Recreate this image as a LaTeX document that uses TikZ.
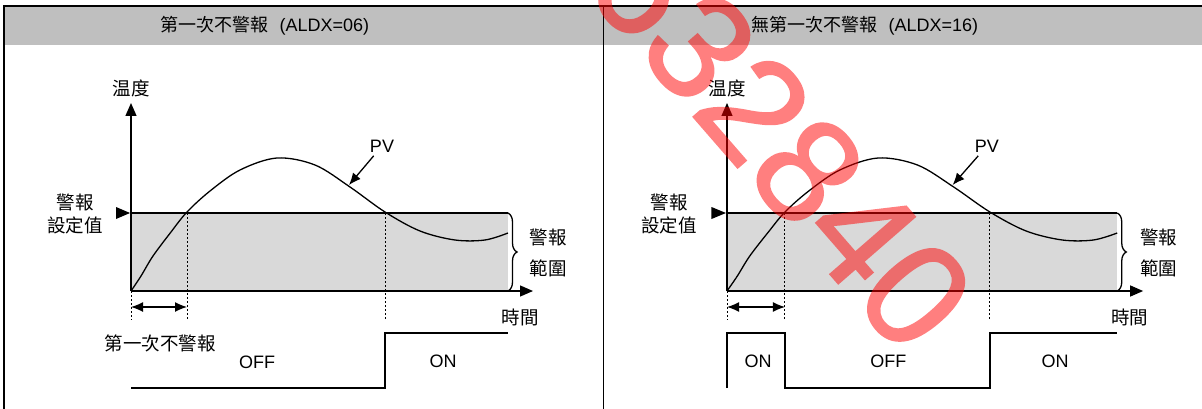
\documentclass[tikz,border=0pt]{standalone}
\usepackage{fontspec}
\setmainfont{Liberation Sans}
\newfontfamily\cjk{Noto Sans CJK TC}
\newfontfamily\stampfont[FakeBold=1.2]{Liberation Sans}
\usetikzlibrary{arrows.meta, decorations.pathreplacing}
\definecolor{headgray}{HTML}{BFBFBF}
\definecolor{bandgray}{HTML}{D9D9D9}
\def\svY{213}
\def\orgY{291}
\def\tA{56}
\def\tB{254}
\def\bandW{377}
\def\lowY{388}
\def\highY{333}
\newcommand{\alarmchart}{%
% alarm band, brace on the right side
\fill[bandgray] (0,\svY) rectangle (\bandW,\orgY);
\coordinate (org) at (0,\orgY);
\coordinate (ytop) at (0,103);
\coordinate (xend) at (402,\orgY);
\coordinate (svL) at (0,\svY);
\coordinate (svR) at (\bandW,\svY);
\coordinate (bandBR) at (\bandW,\orgY);
\draw (svL) -- (svR);
\draw[decorate, decoration={brace, amplitude=9pt}] (svR) -- (bandBR);

% axes
\draw[axis] (org) -- (ytop);
\draw[axis] (org) -- (xend);
\fill (-1,\svY) -- (-15,207) -- (-15,219) -- cycle;

% PV curve
\draw plot[smooth, tension=0.55] coordinates {(0,291) (10,276) (22,256)
  (40,232) (56,212) (79,191) (109,170) (146,158) (184,165) (219,187)
  (254,212) (289,231) (324,240) (354,240) (377,233)};

% crossing points
\coordinate (cA) at (\tA,\svY);
\coordinate (cB) at (\tB,\svY);
\coordinate (orgB) at (0,320);
\coordinate (cAB) at (\tA,320);
\coordinate (cBB) at (\tB,320);
\draw[guide] (org) -- (orgB);
\draw[guide] (cA) -- (cAB);
\draw[guide] (cB) -- (cBB);
\coordinate (dA) at (0,307);
\coordinate (dB) at (\tA,307);
\draw[<->] (dA) -- (dB);

% labels
\node[cjktxt] (temp) at (0,88) {温度};
\node[cjktxt, align=center] (svlbl) at (-56,214) {警報\\設定值};
\node[cjktxt, align=center] (range) at (417,253) {警報\\[8pt]範圍};
\node[cjktxt] (time) at (389,317) {時間};
\node[txt, inner sep=3pt] (pv) at (251,146) {PV};
\coordinate (pvtip) at (218,185);
\draw[->] (pv) -- (pvtip);
}

\begin{document}
\begin{tikzpicture}[
    x=1pt, y=-1pt,
    line width=1.3pt,
    >={Latex[length=12pt,width=10pt]},
    axis/.style={-{Triangle[length=13pt,width=11pt]}},
    guide/.style={line width=1pt, dash pattern=on 2pt off 2pt},
    txt/.style={inner sep=0pt, font=\fontsize{18}{22}\selectfont},
    cjktxt/.style={inner sep=0pt, font=\cjk\fontsize{18.5}{23}\selectfont},
    stamp/.style={text=red, inner sep=0pt,
        font=\stampfont\fontsize{148}{148}\selectfont}
]
\useasboundingbox (0,0) rectangle (1202,409);

% header and frame
\fill[headgray] (4,6) rectangle (1202,45);
\draw[line width=1.5pt] (4,409) -- (4,6) -- (1202,6);
\draw[line width=1.5pt] (603.5,6) -- (603.5,409);
\node[txt] (hdrL) at (265,26) {{\cjk 第一次不警報}\hspace{.6em}(ALDX=06)};
\node[txt] (hdrR) at (865,26) {{\cjk 無第一次不警報}\hspace{.6em}(ALDX=16)};

% first alarm suppressed
\begin{scope}[xshift=131pt, name prefix=L-]
\alarmchart
\draw (0,\lowY) -- (\tB,\lowY) -- (\tB,\highY) -- (\bandW,\highY);
\node[cjktxt] (first) at (29,343) {第一次不警報};
\node[txt] (off) at (126,362) {OFF};
\node[txt] (on) at (312,361) {ON};
\end{scope}

% no first alarm suppression
\begin{scope}[xshift=727pt, xscale=1.035, name prefix=R-]
\alarmchart
\draw (0,\lowY) -- (0,\highY) -- (\tA,\highY) -- (\tA,\lowY)
  -- (\tB,\lowY) -- (\tB,\highY) -- (\bandW,\highY);
\node[txt] (onA) at (30,361) {ON};
\node[txt] (off) at (156,361) {OFF};
\node[txt] (onB) at (317,361) {ON};
\end{scope}

% watermark
\begin{scope}[transparency group, opacity=0.5]
\node[stamp, rotate=-49] (mark) at (781,140) {632840};
\end{scope}
\end{tikzpicture}
\end{document}
